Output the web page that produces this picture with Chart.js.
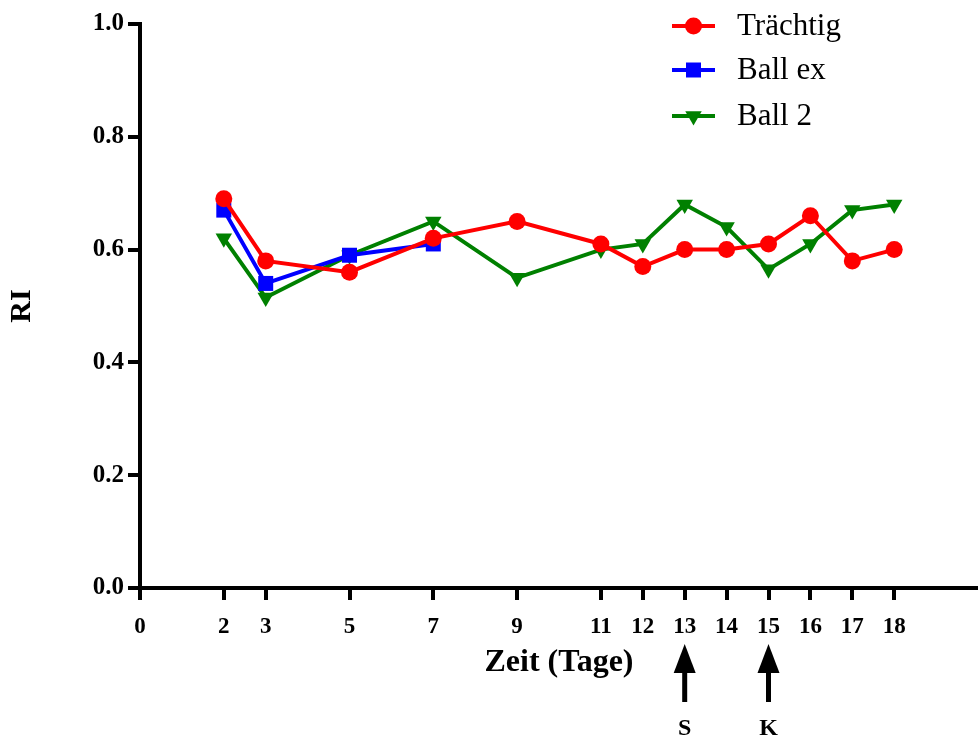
<!DOCTYPE html>
<html>
<head>
<meta charset="utf-8">
<script src="https://cdn.jsdelivr.net/npm/chart.js@4/dist/chart.umd.min.js"></script>
<style>
  body { margin: 0; background: #fff; }
  canvas { display: block; }
</style>
</head>
<body>
<canvas id="riChart" width="978" height="740"></canvas>
<script>
// RI per day for each group
const days = [2, 3, 5, 7, 9, 11, 12, 13, 14, 15, 16, 17, 18];
const traechtig = [0.69, 0.58, 0.56, 0.62, 0.65, 0.61, 0.57, 0.60, 0.60, 0.61, 0.66, 0.58, 0.60];
const ballExDays = [2, 3, 5, 7];
const ballEx = [0.67, 0.54, 0.59, 0.61];
const ball2 = [0.62, 0.515, 0.59, 0.65, 0.55, 0.60, 0.61, 0.68, 0.64, 0.565, 0.61, 0.67, 0.68];

const xTicks = [0, 2, 3, 5, 7, 9, 11, 12, 13, 14, 15, 16, 17, 18];
const eventDays = [13, 15];
const eventLabels = ['S', 'K'];

const seriesNames = ['Trächtig', 'Ball ex', 'Ball 2'];
const seriesColors = ['#ff0000', '#0000ff', '#008000'];

const serif = '"Liberation Serif", "Times New Roman", serif';

function toPoints(xs, ys) {
  return xs.map((x, i) => ({ x: x, y: ys[i] }));
}

// draw one marker shape (used for the legend)
function drawMarker(ctx, style, x, y, color) {
  ctx.save();
  ctx.fillStyle = color;
  ctx.beginPath();
  if (style === 'circle') {
    ctx.arc(x, y, 8.5, 0, Math.PI * 2);
  } else if (style === 'rect') {
    ctx.rect(x - 7.5, y - 7.5, 15, 15);
  } else {
    const r = 9.5;
    ctx.moveTo(x, y + r);
    ctx.lineTo(x - r * Math.sin(Math.PI / 3), y - r / 2);
    ctx.lineTo(x + r * Math.sin(Math.PI / 3), y - r / 2);
    ctx.closePath();
  }
  ctx.fill();
  ctx.restore();
}

const legendPlugin = {
  id: 'lineLegend',
  afterDraw(chart) {
    const ctx = chart.ctx;
    const styles = ['circle', 'rect', 'triangle'];
    const rowsY = [26, 70, 116];
    ctx.save();
    seriesNames.forEach((name, i) => {
      const y = rowsY[i];
      ctx.strokeStyle = seriesColors[i];
      ctx.lineWidth = 4;
      ctx.beginPath();
      ctx.moveTo(672, y);
      ctx.lineTo(715, y);
      ctx.stroke();
      drawMarker(ctx, styles[i], 693.5, y, seriesColors[i]);
      ctx.fillStyle = '#000';
      ctx.font = '31px ' + serif;
      ctx.textBaseline = 'middle';
      ctx.textAlign = 'left';
      ctx.fillText(name, 737, y + 1);
    });
    ctx.restore();
  }
};

// arrows under the x axis marking events
const eventPlugin = {
  id: 'eventArrows',
  afterDraw(chart) {
    const ctx = chart.ctx;
    const xs = chart.scales.x;
    ctx.save();
    eventDays.forEach((d, i) => {
      const px = xs.getPixelForValue(d);
      ctx.fillStyle = '#000';
      ctx.beginPath();
      ctx.moveTo(px, 644);
      ctx.lineTo(px - 11, 673);
      ctx.lineTo(px + 11, 673);
      ctx.closePath();
      ctx.fill();
      ctx.fillRect(px - 2.5, 670, 5, 32);
      ctx.font = 'bold 24px ' + serif;
      ctx.textAlign = 'center';
      ctx.textBaseline = 'middle';
      ctx.fillText(eventLabels[i], px, 729);
    });
    ctx.restore();
  }
};

const axisGrid = {
  display: true,
  drawOnChartArea: false,
  drawTicks: true,
  tickLength: 12,
  color: '#000',
  lineWidth: 4
};

new Chart(document.getElementById('riChart'), {
  type: 'line',
  data: {
    datasets: [
      {
        label: seriesNames[0],
        data: toPoints(days, traechtig),
        borderColor: seriesColors[0],
        backgroundColor: seriesColors[0],
        borderWidth: 4,
        pointStyle: 'circle',
        pointRadius: 8.5,
        pointBorderWidth: 0,
        clip: false
      },
      {
        label: seriesNames[1],
        data: toPoints(ballExDays, ballEx),
        borderColor: seriesColors[1],
        backgroundColor: seriesColors[1],
        borderWidth: 4,
        pointStyle: 'rect',
        pointRadius: 10.6,
        pointBorderWidth: 0,
        clip: false
      },
      {
        label: seriesNames[2],
        data: toPoints(days, ball2),
        borderColor: seriesColors[2],
        backgroundColor: seriesColors[2],
        borderWidth: 4,
        pointStyle: 'triangle',
        pointRotation: 180,
        pointRadius: 9.5,
        pointBorderWidth: 0,
        clip: false
      }
    ]
  },
  options: {
    responsive: false,
    animation: false,
    layout: { autoPadding: false, padding: { top: 24, right: 0, left: 0, bottom: 0 } },
    plugins: {
      legend: { display: false },
      tooltip: { enabled: false }
    },
    scales: {
      x: {
        type: 'linear',
        min: 0,
        max: 20,
        afterBuildTicks(scale) {
          scale.ticks = xTicks.map(v => ({ value: v }));
        },
        afterFit(scale) {
          scale.height = 152;
          scale.paddingLeft = 0;
          scale.paddingRight = 0;
        },
        grid: axisGrid,
        border: { display: true, color: '#000', width: 4 },
        ticks: {
          color: '#000',
          padding: 13,
          maxRotation: 0,
          autoSkip: false,
          font: { family: serif, size: 23, weight: 'bold' },
          callback: v => String(v)
        },
        title: {
          display: true,
          text: 'Zeit (Tage)',
          color: '#000',
          font: { family: serif, size: 32, weight: 'bold' },
          padding: { top: 0, bottom: 58 }
        }
      },
      y: {
        min: 0,
        max: 1,
        afterFit(scale) { scale.width = 140; },
        grid: axisGrid,
        border: { display: true, color: '#000', width: 4 },
        ticks: {
          stepSize: 0.2,
          color: '#000',
          padding: 4,
          font: { family: serif, size: 25, weight: 'bold' },
          callback: v => v.toFixed(1)
        },
        title: {
          display: true,
          text: 'RI',
          color: '#000',
          font: { family: serif, size: 30, weight: 'bold' },
          padding: { top: 4, bottom: 0 }
        }
      }
    }
  },
  plugins: [legendPlugin, eventPlugin]
});
</script>
</body>
</html>
